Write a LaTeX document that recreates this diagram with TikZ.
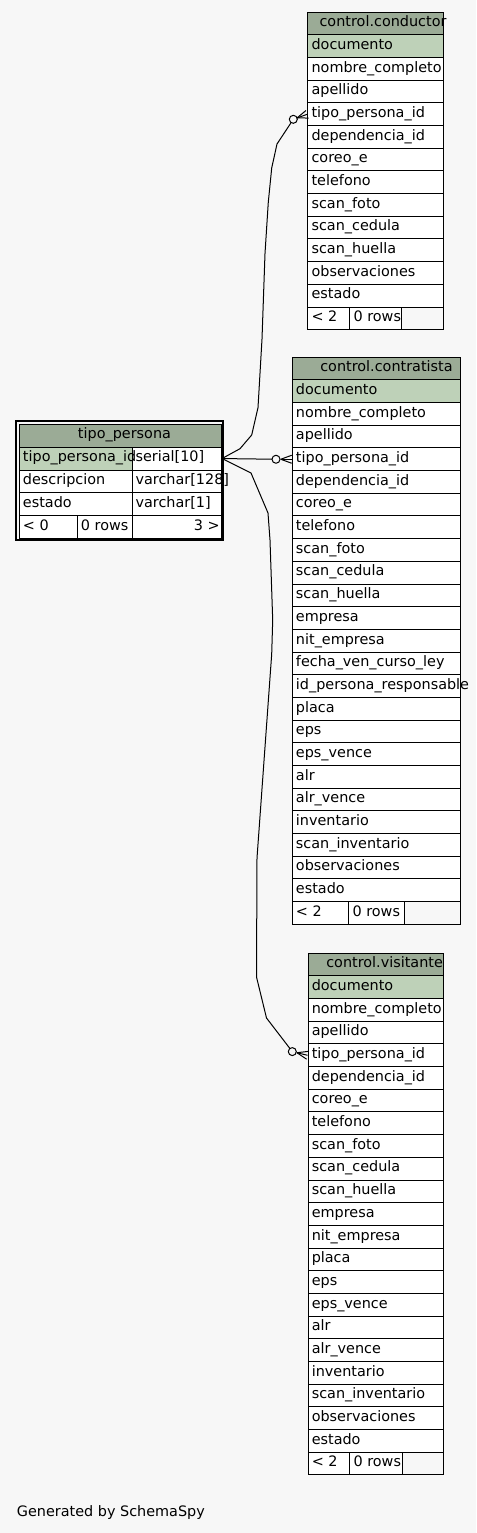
\documentclass[tikz,border=0pt]{standalone}
\usepackage{fontspec}
\setmainfont{DejaVu Sans}
\usetikzlibrary{calc}
\definecolor{bg}{HTML}{F7F7F7}
\definecolor{hdr}{HTML}{9BAB96}
\definecolor{keyc}{HTML}{BED1B8}
\definecolor{foot}{HTML}{F7F7F7}
\tikzset{
  cell/.style={draw=black, line width=0.75pt, inner sep=0pt, anchor=north west, minimum height=22.68*0.75pt},
  tcell/.style={draw=black, line width=0.75pt, inner sep=0pt, anchor=north west, minimum height=22.9*0.75pt},
  txt/.style={anchor=base west, inner sep=0pt, font=\fontsize{10.8pt}{13pt}\selectfont},
  rtxt/.style={anchor=base east, inner sep=0pt, font=\fontsize{10.8pt}{13pt}\selectfont},
  rel/.style={line width=0.75pt, draw=black},
}
\newcommand\ertab[5]{% prefix, left, width, top, rows
  \foreach \t [count=\i] in {#5} {
    \ifnum\i=1 \def\fc{keyc}\else\def\fc{white}\fi
    \node[cell, fill=\fc, minimum width=#3*0.75pt] (#1-\i) at (#2, {#4+\i*22.68}) {};
    \node[txt] at ($(#1-\i.west)+(4,3.3)$) {\t};
  }}
\newcommand\erhead[6]{% prefix, left, width, top, text x, text
  \node[cell, fill=hdr, minimum width=#3*0.75pt] (#1-0) at (#2,#4) {};
  \node[txt] at (#5, {#4+11.34+3.3}) {#6};}
\newcommand\erfoot[6]{% prefix, x1, x2, x3, x4, top
  \node[cell, fill=white, minimum width={(#3-#2)*0.75pt}] (#1-fa) at (#2,#6) {};
  \node[cell, fill=white, minimum width={(#4-#3)*0.75pt}] (#1-fb) at (#3,#6) {};
  \node[cell, fill=foot, minimum width={(#5-#4)*0.75pt}] (#1-fc) at (#4,#6) {};
  \node[txt] at ($(#1-fa.west)+(4,3.3)$) {< 2};
  \node[txt] at ($(#1-fb.west)+(4,3.3)$) {0 rows};}
\newcommand\crowodot[2]{% end, circle centre
  \draw[rel, fill=bg] (#2) circle (3pt);
  \draw[rel] ($(#1)!8.2pt!(#2)$) -- (#1);
  \draw[rel] ($(#1)!8.2pt!(#2)$) -- ($(#1)!3pt!90:(#2)$);
  \draw[rel] ($(#1)!8.2pt!(#2)$) -- ($(#1)!3pt!-90:(#2)$);}
\begin{document}
\begin{tikzpicture}[x=0.75pt,y=-0.75pt]
\fill[bg] (0,0) rectangle (476,1533);
\useasboundingbox (0,0) rectangle (476,1533);

% ---------- control.conductor ----------
\erhead{cond}{307.3}{136}{11.7}{319.3}{control.conductor}
\ertab{cond}{307.3}{136}{11.7}{documento,nombre\_completo,apellido,tipo\_persona\_id,dependencia\_id,coreo\_e,telefono,scan\_foto,scan\_cedula,scan\_huella,observaciones,estado}
\erfoot{cond}{307.3}{349.3}{401.3}{443.3}{306.54}

% ---------- control.contratista ----------
\erhead{ctr}{291.7}{168.6}{356.7}{320}{control.contratista}
\ertab{ctr}{291.7}{168.6}{356.7}{documento,nombre\_completo,apellido,tipo\_persona\_id,dependencia\_id,coreo\_e,telefono,scan\_foto,scan\_cedula,scan\_huella,empresa,nit\_empresa,fecha\_ven\_curso\_ley,id\_persona\_responsable,placa,eps,eps\_vence,alr,alr\_vence,inventario,scan\_inventario,observaciones,estado}
\erfoot{ctr}{291.7}{348.3}{404}{460.3}{901.0}

% ---------- control.visitante ----------
\erhead{vis}{307.5}{135.8}{952.7}{326}{control.visitante}
\ertab{vis}{307.5}{135.8}{952.7}{documento,nombre\_completo,apellido,tipo\_persona\_id,dependencia\_id,coreo\_e,telefono,scan\_foto,scan\_cedula,scan\_huella,empresa,nit\_empresa,placa,eps,eps\_vence,alr,alr\_vence,inventario,scan\_inventario,observaciones,estado}
\erfoot{vis}{307.5}{349.3}{401.7}{443.3}{1451.66}

% ---------- tipo_persona ----------
\node[tcell, fill=hdr, minimum width=202.3*0.75pt] (tp-0) at (18.7,423.7) {};
\node[txt] at (77.7, 423.7+11.45+3.3) {tipo\_persona};
\node[tcell, fill=keyc, minimum width=113.6*0.75pt] (tp-1a) at (18.7,446.6) {};
\node[tcell, fill=white, minimum width=88.7*0.75pt] (tp-1b) at (132.3,446.6) {};
\node[tcell, fill=white, minimum width=113.6*0.75pt] (tp-2a) at (18.7,469.5) {};
\node[tcell, fill=white, minimum width=88.7*0.75pt] (tp-2b) at (132.3,469.5) {};
\node[tcell, fill=white, minimum width=113.6*0.75pt] (tp-3a) at (18.7,492.4) {};
\node[tcell, fill=white, minimum width=88.7*0.75pt] (tp-3b) at (132.3,492.4) {};
\node[tcell, fill=white, minimum width=58*0.75pt] (tp-fa) at (18.7,515.3) {};
\node[tcell, fill=white, minimum width=55.6*0.75pt] (tp-fb) at (76.7,515.3) {};
\node[tcell, fill=white, minimum width=88.7*0.75pt] (tp-fc) at (132.3,515.3) {};
\node[txt] at ($(tp-1a.west)+(4,3.3)$) {tipo\_persona\_id};
\node[txt] at ($(tp-1b.west)+(3,3.3)$) {serial[10]};
\node[txt] at ($(tp-2a.west)+(4,3.3)$) {descripcion};
\node[txt] at ($(tp-2b.west)+(3,3.3)$) {varchar[128]};
\node[txt] at ($(tp-3a.west)+(4,3.3)$) {estado};
\node[txt] at ($(tp-3b.west)+(3,3.3)$) {varchar[1]};
\node[txt] at ($(tp-fa.west)+(4,3.3)$) {< 0};
\node[txt] at ($(tp-fb.west)+(4,3.3)$) {0 rows};
\node[rtxt] at ($(tp-fc.east)+(-2,3.3)$) {3 >};
\draw[line width=1.5pt] (16,421) rectangle (223.3,540.3);

% ---------- relationships ----------
\coordinate (c1) at (293.3,119.3);
\coordinate (c2) at ($(ctr-4.west)+(-15.7,0)$);
\coordinate (c3) at (292.3,1051.6);
\draw[rel] (tp-1b.east) -- (240,448.7) -- (251.7,435) -- (258,407.6) -- (262,339)
  -- (265,253.5) -- (268.3,202) -- (271.7,168) -- (277,144) -- (c1);
\draw[rel] (tp-1b.east) -- (c2);
\draw[rel] (tp-1b.east) -- (251,473) -- (268,513) -- (270,540) -- (272.7,620)
  -- (271.7,654) -- (257,858) -- (256.5,977) -- (266.5,1018) -- (c3);
\crowodot{cond-4.west}{c1}
\crowodot{ctr-4.west}{c2}
\crowodot{vis-4.west}{c3}

\node[txt] (gen) at (16.7,1516) {Generated by SchemaSpy};
\end{tikzpicture}
\end{document}
